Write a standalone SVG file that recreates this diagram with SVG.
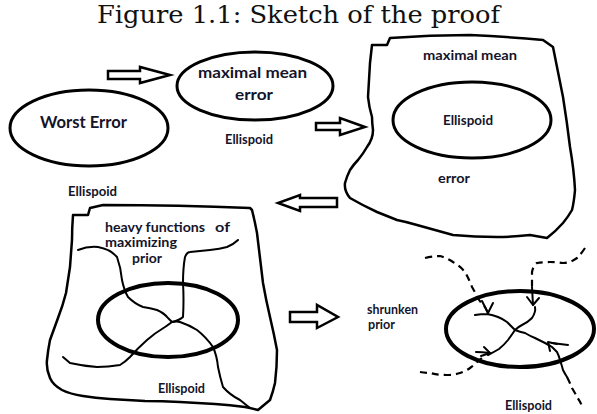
<svg xmlns="http://www.w3.org/2000/svg" width="597" height="414" viewBox="0 0 597 414">
<style>
.bg{fill:#ffffff}
.title{font-family:"DejaVu Serif","Liberation Serif",serif;font-size:24px;fill:#111}
.lbl{font-family:Lato,"Liberation Sans",sans-serif;font-weight:bold;fill:#14142a}
.outline{fill:none;stroke:#000;stroke-width:2.5;stroke-linejoin:round;stroke-linecap:round}
.ell{fill:none;stroke:#000;stroke-width:3}
.ellb{fill:none;stroke:#000;stroke-width:4}
.line{fill:none;stroke:#000;stroke-width:2;stroke-linejoin:round;stroke-linecap:round}
.dash{fill:none;stroke:#000;stroke-width:2.2;stroke-dasharray:7 5}
.blk{fill:#fff;stroke:#000;stroke-width:2.5;stroke-linejoin:miter}
</style>
<rect class="bg" x="0" y="0" width="597" height="414"/>
<text id="title" class="title" x="97" y="23" textLength="403" lengthAdjust="spacingAndGlyphs">Figure 1.1: Sketch of the proof</text>

<g id="node-worst-error">
<ellipse class="ell" cx="89" cy="128" rx="79" ry="38"/>
<text class="lbl" x="40" y="128" font-size="17" textLength="87" lengthAdjust="spacingAndGlyphs">Worst Error</text>
<text class="lbl" x="68" y="196" font-size="12.5" textLength="49" lengthAdjust="spacingAndGlyphs">Ellispoid</text>
</g>

<g id="node-mean-error">
<ellipse class="ell" cx="255" cy="86" rx="78" ry="34"/>
<text class="lbl" x="198" y="78" font-size="16" textLength="109" lengthAdjust="spacingAndGlyphs">maximal mean</text>
<text class="lbl" x="235" y="100" font-size="16" textLength="38" lengthAdjust="spacingAndGlyphs">error</text>
<text class="lbl" x="225" y="144" font-size="12.5" textLength="48" lengthAdjust="spacingAndGlyphs">Ellispoid</text>
</g>

<g id="node-mean-error-region">
<path class="outline" d="M372,45 L387,45 L390,38 Q430,35 470,35 Q510,37 543,40 L553,47 Q558,72 563,97 Q567,122 570,147 Q574,170 575,190 Q574,202 572,210 Q568,217 563,223 Q555,232 547,238 L530,235 Q513,237 497,237 Q475,237 453,235 Q435,230 417,225 Q407,222 397,220 Q387,216 377,212 Q362,205 350,198 Q344,191 345,183 Q347,176 350,170 Q354,164 358,160 Q363,154 367,147 Q373,139 373,130 Q372,122 372,117 Q369,107 368,97 Q369,80 370,63 Z"/>
<ellipse class="ell" cx="472" cy="120" rx="79" ry="38" stroke-width="3.5"/>
<text class="lbl" x="423" y="60" font-size="14" textLength="94" lengthAdjust="spacingAndGlyphs">maximal mean</text>
<text class="lbl" x="443" y="125" font-size="13.5" textLength="50" lengthAdjust="spacingAndGlyphs">Ellispoid</text>
<text class="lbl" x="438" y="183" font-size="14" textLength="32" lengthAdjust="spacingAndGlyphs">error</text>
</g>

<g id="node-heavy-functions">
<path class="outline" d="M73,215 L88,215 L90,208 L103,205 Q180,205 250,208 L252,210 Q255,222 257,233 Q260,258 263,283 Q266,300 270,317 Q274,334 277,350 Q277,367 275,383 Q273,392 270,400 L258,410 Q250,408 245,407 Q230,405 215,404 Q197,403 180,402 Q162,401 145,401 Q127,400 110,399 Q95,398 83,396 Q70,394 62,390 Q53,385 50,378 Q46,369 47,360 Q48,350 50,340 Q54,329 58,318 Q63,305 66,293 Q68,280 70,267 Q71,253 72,240 Q72,228 73,215"/>
<ellipse class="ellb" cx="168" cy="320" rx="70" ry="37"/>
<path class="line" d="M78,250 Q88,246 98,247 Q110,249 117,257 Q121,268 122,280 Q124,290 128,297 Q135,304 143,307 Q150,308 157,310 Q164,313 168,318 L172,322"/>
<path class="line" d="M172,322 Q180,320 183,317 Q184,300 183,283 Q183,268 185,257 Q187,252 190,252 Q200,251 210,250 Q220,249 227,247 Q234,244 238,240"/>
<path class="line" d="M172,322 Q168,325 165,327 Q155,333 147,340 Q138,348 130,357 Q125,362 120,365 Q108,367 97,367 Q83,366 70,363 L63,357"/>
<path class="line" d="M172,322 Q177,321 180,322 Q189,325 197,330 Q206,337 213,347 Q217,356 218,367 Q220,377 223,387 Q230,395 240,400 Q245,404 250,408"/>
<text class="lbl" x="105" y="232" font-size="13.5" textLength="100" lengthAdjust="spacingAndGlyphs">heavy functions</text>
<text class="lbl" x="215" y="232" font-size="13.5" textLength="15" lengthAdjust="spacingAndGlyphs">of</text>
<text class="lbl" x="105" y="247" font-size="13" textLength="72" lengthAdjust="spacingAndGlyphs">maximizing</text>
<text class="lbl" x="132" y="263" font-size="13.5" textLength="30" lengthAdjust="spacingAndGlyphs">prior</text>
<text class="lbl" x="158" y="393" font-size="12.5" textLength="47" lengthAdjust="spacingAndGlyphs">Ellispoid</text>
</g>

<g id="node-shrunken-prior">
<ellipse class="ellb" cx="520" cy="329" rx="74" ry="38"/>
<path class="dash" d="M425,258 Q433,256 440,256 Q447,258 453,262 Q460,266 465,272 Q469,279 472,287 Q475,292 477,297 Q481,303 485,307"/>
<path class="dash" d="M585,248 Q581,254 577,258 Q570,263 563,263 Q556,262 550,262 Q543,262 537,263 Q533,266 532,272 Q532,280 532,287"/>
<path class="dash" d="M420,372 Q425,373 430,373 Q438,375 447,375 Q454,375 460,373 Q466,371 470,368 Q474,365 477,362 L483,357"/>
<path class="dash" d="M567,377 Q570,383 572,388 Q575,393 577,397 Q580,401 582,406"/>
<path class="line" d="M485,307 L488,313 M475,315 Q481,314 487,314 Q493,315 498,317 Q503,319 507,322 Q511,326 515,330"/>
<path class="line" d="M482,301 L488,313 L493,303"/>
<path class="line" d="M532,287 L533,305 M535,307 Q536,312 532,318 Q527,323 522,325 Q518,327 515,330"/>
<path class="line" d="M527,297 L533,305 L539,298"/>
<path class="line" d="M515,330 Q511,336 508,340 Q504,345 499,349 Q494,352 488,355 M476,352 Q482,352 490,353"/>
<path class="line" d="M481,356 L490,353 L484,347"/>
<path class="line" d="M515,330 Q520,332 525,333 Q530,336 535,338 Q541,341 545,343 Q549,345 552,347 Q555,350 557,352 Q559,356 560,360 Q562,366 563,370 Q565,374 567,377 M552,343 Q560,344 568,345"/>
<path class="line" d="M550,351 L548,342 L557,344"/>
<text class="lbl" x="367" y="314" font-size="12.5" textLength="51" lengthAdjust="spacingAndGlyphs">shrunken</text>
<text class="lbl" x="368" y="329" font-size="12.5" textLength="27" lengthAdjust="spacingAndGlyphs">prior</text>
<text class="lbl" x="505" y="410" font-size="12.5" textLength="47" lengthAdjust="spacingAndGlyphs">Ellispoid</text>
</g>

<g id="connectors">
<path class="blk" d="M108,71 L140,71 L140,67 L170,75 L140,83 L140,79 L108,79 Z"/>
<path class="blk" d="M316,123 L340,123 L340,118 L365,127 L340,135 L340,130 L316,130 Z"/>
<path class="blk" d="M337,198 L300,198 L300,195 L278,203 L300,211 L300,207 L337,207 Z"/>
<path class="blk" d="M290,312 L317,312 L317,305 L338,317 L317,328 L317,322 L290,322 Z"/>
</g>
</svg>
